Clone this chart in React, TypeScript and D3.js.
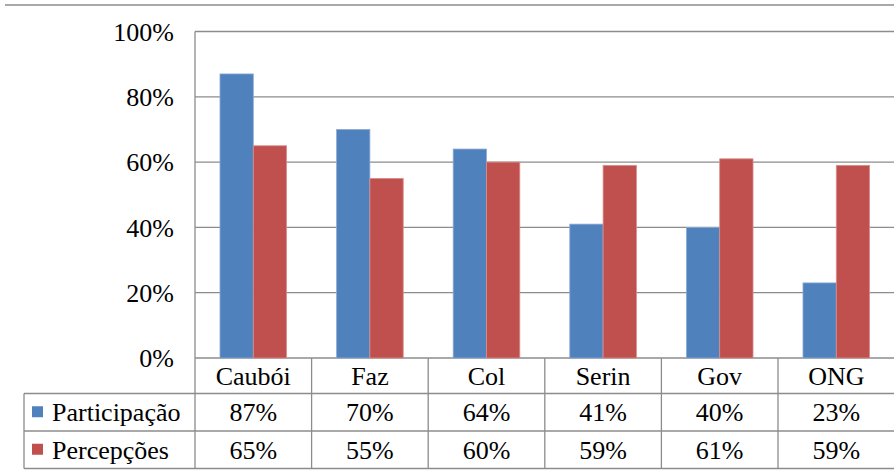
import React from "react";
import * as d3 from "d3";

const categories = ["Caubói", "Faz", "Col", "Serin", "Gov", "ONG"];
const seriesNames = ["Participação", "Percepções"];
const participacao = [0.87, 0.7, 0.64, 0.41, 0.4, 0.23];
const percepcoes = [0.65, 0.55, 0.6, 0.59, 0.61, 0.59];
const yTicks = [0, 0.2, 0.4, 0.6, 0.8, 1.0];
const colors = ["#4F81BD", "#C0504D"];
const strokes = ["#8EAAD6", "#D88E8C"];

const W = 894;
const H = 476;
const plotLeft = 195;
const plotRight = 894.6;
const plotTop = 31.5;
const plotBottom = 358;
const tableLeft = 24;
const rowBounds = [358, 393.5, 431, 468.5];
const gridColor = "#8C8C8C";
const font = "Liberation Serif";
const fs = 26;

export default function App() {
  const seriesValues = [participacao, percepcoes];
  const x0 = d3
    .scaleBand<string>()
    .domain(categories)
    .range([plotLeft, plotRight])
    .paddingInner(1.5 / 3.5)
    .paddingOuter(0.75 / 3.5);
  const x1 = d3
    .scaleBand<string>()
    .domain(seriesNames)
    .range([0, x0.bandwidth()])
    .padding(0);
  const y = d3.scaleLinear().domain([0, 1]).range([plotBottom, plotTop]);
  const step = x0.step();
  const fmt = d3.format(".0%");
  const ts: React.CSSProperties = { fontFamily: font, fontSize: fs };

  return (
    <svg
      width={W}
      height={H}
      style={{ position: "fixed", left: 0, top: 0, background: "#fff", fontFamily: font }}
    >
      <rect x={0} y={0} width={W} height={H} fill="#fff" />
      <line x1={5} x2={W} y1={5} y2={5} stroke={gridColor} strokeWidth={1.3} />

      {yTicks.map((t) => (
        <line
          key={"g" + t}
          x1={plotLeft}
          x2={W}
          y1={y(t)}
          y2={y(t)}
          stroke={gridColor}
          strokeWidth={1.3}
        />
      ))}
      <line x1={plotLeft} x2={plotLeft} y1={plotTop} y2={plotBottom} stroke={gridColor} strokeWidth={1.3} />

      {yTicks.map((t) => (
        <text key={"t" + t} x={174} y={y(t)} dy="0.35em" textAnchor="end" style={ts} fill="#000">
          {fmt(t)}
        </text>
      ))}

      {categories.map((c, i) =>
        seriesNames.map((s, j) => {
          const v = seriesValues[j][i];
          const bx = (x0(c) as number) + (x1(s) as number);
          return (
            <rect
              key={c + s}
              x={bx}
              y={y(v)}
              width={x1.bandwidth()}
              height={plotBottom - y(v)}
              fill={colors[j]}
              stroke={strokes[j]}
              strokeWidth={0.8}
            />
          );
        })
      )}

      {rowBounds.slice(1).map((ry) => (
        <line key={"r" + ry} x1={tableLeft} x2={W} y1={ry} y2={ry} stroke={gridColor} strokeWidth={1.3} />
      ))}
      <line x1={tableLeft} x2={tableLeft} y1={rowBounds[1]} y2={rowBounds[3]} stroke={gridColor} strokeWidth={1.3} />
      {categories.map((c, i) => {
        const lx = plotLeft + i * step;
        return (
          <line key={"v" + c} x1={lx} x2={lx} y1={rowBounds[0]} y2={rowBounds[3]} stroke={gridColor} strokeWidth={1.3} />
        );
      })}

      {categories.map((c) => (
        <text
          key={"h" + c}
          x={(x0(c) as number) + x0.bandwidth() / 2}
          y={(rowBounds[0] + rowBounds[1]) / 2}
          dy="0.35em"
          textAnchor="middle"
          style={ts}
          fill="#000"
        >
          {c}
        </text>
      ))}

      {seriesNames.map((s, j) => {
        const cy = (rowBounds[j + 1] + rowBounds[j + 2]) / 2;
        return (
          <g key={"row" + s}>
            <rect x={32} y={cy - 6} width={11} height={11} fill={colors[j]} />
            <text x={52} y={cy} dy="0.35em" style={ts} fill="#000">
              {s}
            </text>
            {categories.map((c, i) => (
              <text
                key={c}
                x={(x0(c) as number) + x0.bandwidth() / 2}
                y={cy}
                dy="0.35em"
                textAnchor="middle"
                style={ts}
                fill="#000"
              >
                {fmt(seriesValues[j][i])}
              </text>
            ))}
          </g>
        );
      })}
    </svg>
  );
}
